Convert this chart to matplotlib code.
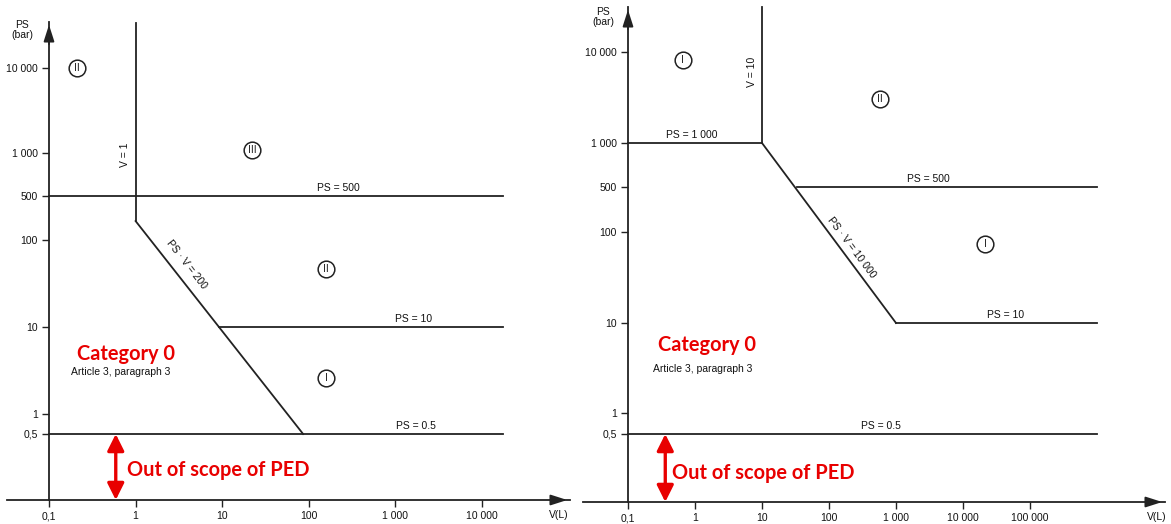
import numpy as np
import matplotlib
matplotlib.use('Agg')
import matplotlib.pyplot as plt
from matplotlib.ticker import NullLocator

W, H = 1171, 524
plt.rcParams['font.family'] = ['Liberation Sans', 'DejaVu Sans']

# axis ticks (same pressure ticks on both charts)
ps_ticks = [0.5, 1, 10, 100, 500, 1000, 10000]
ps_tick_labels = ['0,5', '1', '10', '100', '500', '1 000', '10 000']
v_ticks_left = [0.1, 1, 10, 100, 1000, 10000]
v_labels_left = ['0,1', '1', '10', '100', '1 000', '10 000']
v_ticks_right = [0.1, 1, 10, 100, 1000, 10000, 100000]
v_labels_right = ['0,1', '1', '10', '100', '1 000', '10 000', '100 000']

# left chart
left_vline_v = [1, 1]
left_vline_ps = [200, 34000]
left_diag_v = [1, 86]
left_diag_ps = [200, 0.5]
left_h_levels = [500, 10, 0.5]
left_h_start = [0.1, 9.2, 0.1]
left_h_end = [17500, 17500, 17500]
left_h_labels = ['PS = 500', 'PS = 10', 'PS = 0.5']
left_h_label_v = [217, 1600, 1730]
left_regions = ['II', 'III', 'II', 'I']
left_region_v = [0.21, 22, 158, 158]
left_region_ps = [10000, 1080, 46, 2.6]

# right chart
right_vline_v = [10, 10]
right_vline_ps = [1000, 31000]
right_diag_v = [10, 1000]
right_diag_ps = [1000, 10]
right_h_levels = [1000, 500, 10, 0.5]
right_h_start = [0.1, 33, 1000, 0.1]
right_h_end = [10, 1.0e6, 1.0e6, 1.0e6]
right_h_labels = ['PS = 1 000', 'PS = 500', 'PS = 10', 'PS = 0.5']
right_h_label_v = [0.9, 3000, 43900, 597]
right_regions = ['I', 'II', 'I']
right_region_v = [0.66, 577, 21300]
right_region_ps = [8160, 3050, 74]

INK = '#222222'
RED = '#e80000'


def make_scale(rows):
    # the drawing's pressure axis is not a true log axis, so map the ticks
    # piecewise (in log space) onto the rows where they sit in the picture
    logs = np.log10(ps_ticks)
    rows = np.array(rows, float)
    s0 = (rows[0] - rows[1]) / (logs[1] - logs[0])
    s1 = (rows[-2] - rows[-1]) / (logs[-1] - logs[-2])
    logs_ext = np.concatenate([[-3], logs, [7]])
    rows_ext = np.concatenate([[rows[0] + s0 * (logs[0] + 3)], rows,
                               [rows[-1] - s1 * (7 - logs[-1])]])

    def fwd(v):
        v = np.clip(np.asarray(v, float), 1e-6, None)
        return np.interp(np.log10(v), logs_ext, -rows_ext)

    def inv(p):
        return 10 ** np.interp(p, -rows_ext, logs_ext)
    return fwd, inv


def make_panel(x0, x1, top, bottom, x_origin, px_decade, rows, vticks, vlabels):
    ax = fig.add_axes([x0 / W, 1 - bottom / H, (x1 - x0) / W, (bottom - top) / H])
    fwd, inv = make_scale(rows)
    ax.set_yscale('function', functions=(fwd, inv))
    ax.set_ylim(inv(-bottom), inv(-top))
    ax.set_xscale('log')
    ax.set_xlim(10 ** (-1 - (x_origin - x0) / px_decade), 10 ** (-1 + (x1 - x_origin) / px_decade))
    ax.set_yticks(ps_ticks)
    ax.set_yticklabels(ps_tick_labels)
    ax.set_xticks(vticks)
    ax.set_xticklabels(vlabels)
    ax.xaxis.set_minor_locator(NullLocator())
    ax.yaxis.set_minor_locator(NullLocator())
    ax.tick_params(direction='out', length=5, width=1, color=INK, labelsize=7.5,
                   labelcolor='#111111', pad=3)
    for s in ['top', 'right']:
        ax.spines[s].set_visible(False)
    ax.spines['left'].set_position(('data', 0.1))
    ax.spines['left'].set_bounds(ax.get_ylim()[0], ax.get_ylim()[1])
    for s in ['left', 'bottom']:
        ax.spines[s].set_color(INK)
        ax.spines[s].set_linewidth(1.3)
    ax.patch.set_visible(False)
    # arrow heads on the axes
    ax.annotate('', xy=(1, 0), xytext=(0.97, 0), xycoords='axes fraction',
                arrowprops=dict(arrowstyle='-|>,head_length=1.0,head_width=0.32',
                                color=INK, lw=1.3, mutation_scale=10))
    ax.annotate('', xy=(0.1, ax.get_ylim()[1]), xytext=(0.1, inv(-top - 25)),
                arrowprops=dict(arrowstyle='-|>,head_length=1.0,head_width=0.32',
                                color=INK, lw=1.3, mutation_scale=10))
    return ax


def draw_content(ax, vline_v, vline_ps, diag_v, diag_ps, levels, starts, ends,
                 labels, label_v, regions, region_v, region_ps):
    ax.plot(vline_v, vline_ps, color=INK, lw=1.3, clip_on=False)
    ax.plot(diag_v, diag_ps, color=INK, lw=1.3)
    for lev, a, b, lab, lv in zip(levels, starts, ends, labels, label_v):
        ax.plot([a, b], [lev, lev], color=INK, lw=1.3)
        ax.annotate(lab, (lv, lev), xytext=(0, 2), textcoords='offset points',
                    ha='center', va='bottom', fontsize=7.5, color='#111111')
    for r, rv, rp in zip(regions, region_v, region_ps):
        ax.plot(rv, rp, 'o', ms=12, mfc='white', mec=INK, mew=1.1)
        ax.text(rv, rp, r, ha='center', va='center', fontsize=7.5, color=INK)


fig = plt.figure(figsize=(W / 100, H / 100), dpi=100)

# ---- left chart
axl = make_panel(7, 570, 22, 500, 49, 86.6, [434, 414, 327, 240, 196, 153, 68],
                 v_ticks_left, v_labels_left)
draw_content(axl, left_vline_v, left_vline_ps, left_diag_v, left_diag_ps,
             left_h_levels, left_h_start, left_h_end, left_h_labels, left_h_label_v,
             left_regions, left_region_v, left_region_ps)
axl.annotate('V = 1', (1, 968), xytext=(-11, 0), textcoords='offset pixels',
             rotation=90, ha='center', va='center', fontsize=7.5, color='#111111')
axl.annotate('PS · V = 200', (3.9, 52), rotation=-52, rotation_mode='anchor',
             ha='center', va='center', fontsize=7.5, color='#111111')
axl.annotate('', xy=(0.59, 0.5), xytext=(0.59, axl.get_ylim()[0]),
             arrowprops=dict(arrowstyle='<|-|>,head_length=1.0,head_width=0.5',
                             color=RED, lw=2.4, mutation_scale=10, shrinkA=0, shrinkB=0))

# ---- right chart
axr = make_panel(583, 1165, 7, 502, 628, 67.0, [434, 413, 323, 232, 187, 143, 52],
                 v_ticks_right, v_labels_right)
draw_content(axr, right_vline_v, right_vline_ps, right_diag_v, right_diag_ps,
             right_h_levels, right_h_start, right_h_end, right_h_labels, right_h_label_v,
             right_regions, right_region_v, right_region_ps)
axr.annotate('V = 10', (10, 6000), xytext=(-10, 0), textcoords='offset pixels',
             rotation=90, ha='center', va='center', fontsize=7.5, color='#111111')
axr.annotate('PS · V = 10 000', (220, 67), rotation=-53, rotation_mode='anchor',
             ha='center', va='center', fontsize=7.5, color='#111111')
axr.annotate('', xy=(0.36, 0.5), xytext=(0.36, axr.get_ylim()[0]),
             arrowprops=dict(arrowstyle='<|-|>,head_length=1.0,head_width=0.5',
                             color=RED, lw=2.4, mutation_scale=10, shrinkA=0, shrinkB=0))

# axis titles and the red notes
def px_text(x, y, s, **kw):
    fig.text(x / W, 1 - y / H, s, **kw)

for x, y in [(22, 30), (603, 17)]:
    px_text(x, y, 'PS\n(bar)', ha='center', va='center', fontsize=7.5,
            linespacing=0.95, color='#111111')
px_text(559, 515, 'V(L)', ha='center', va='center', fontsize=7.5, color='#111111')
px_text(1157, 517, 'V(L)', ha='center', va='center', fontsize=7.5, color='#111111')

red_font = dict(family=['Lato', 'DejaVu Sans'], weight='bold', color=RED)
px_text(126, 354, 'Category 0', ha='center', va='center', fontsize=14.4, **red_font)
px_text(121, 372, 'Article 3, paragraph 3', ha='center', va='center', fontsize=7.5, color='#111111')
px_text(707, 345, 'Category 0', ha='center', va='center', fontsize=14.4, **red_font)
px_text(703, 369, 'Article 3, paragraph 3', ha='center', va='center', fontsize=7.5, color='#111111')
px_text(127, 470, 'Out of scope of PED', ha='left', va='center', fontsize=14.4, **red_font)
px_text(672, 473, 'Out of scope of PED', ha='left', va='center', fontsize=14.4, **red_font)

fig.savefig('out.png', dpi=100)
